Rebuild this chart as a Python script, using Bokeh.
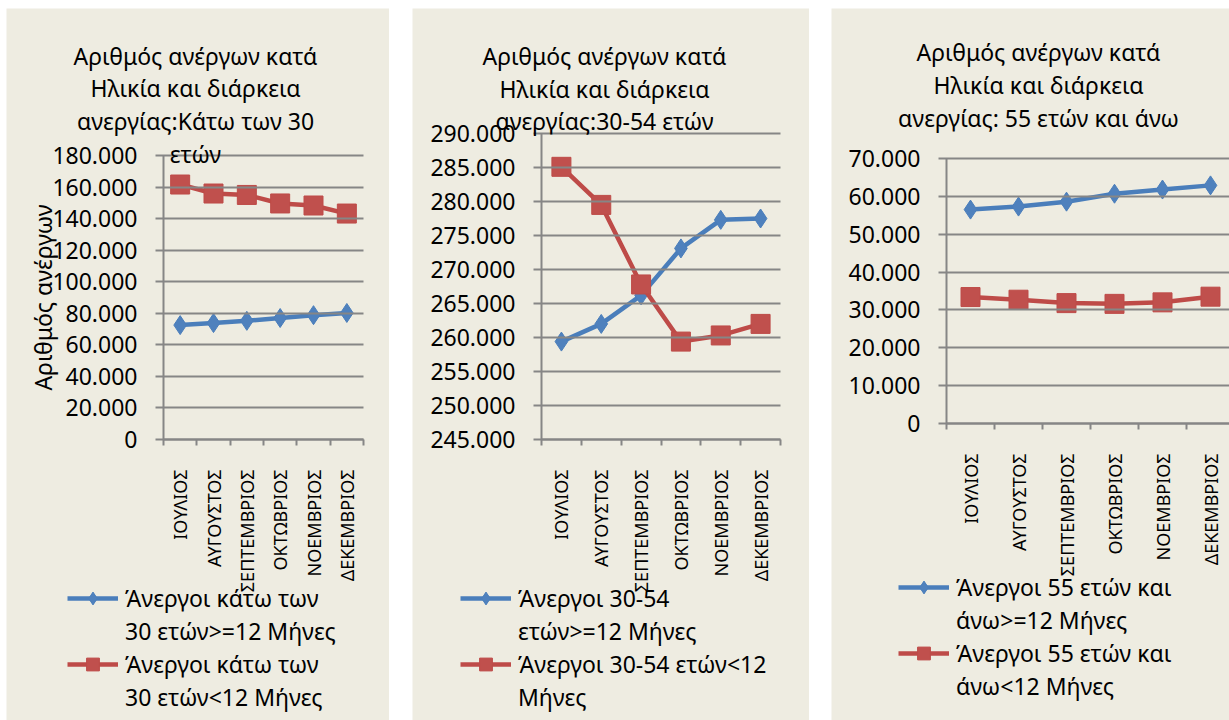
import math
from bokeh.plotting import figure
from bokeh.layouts import row, column
from bokeh.models import (Range1d, FixedTicker, Legend, LegendItem, Label, Spacer, LinearAxis)
from bokeh.embed import file_html
from bokeh.resources import INLINE

# ---------------- data ----------------
months = ["ΙΟΥΛΙΟΣ", "ΑΥΓΟΥΣΤΟΣ", "ΣΕΠΤΕΜΒΡΙΟΣ", "ΟΚΤΩΒΡΙΟΣ", "ΝΟΕΜΒΡΙΟΣ", "ΔΕΚΕΜΒΡΙΟΣ"]

under30_long = [72500, 73800, 75200, 77000, 78800, 80200]
under30_short = [161600, 155900, 155000, 149600, 148300, 143200]

age30_54_long = [259400, 262000, 266200, 273100, 277300, 277500]
age30_54_short = [285100, 279500, 267800, 259400, 260300, 262000]

over55_long = [56500, 57300, 58600, 60700, 61800, 62900]
over55_short = [33400, 32700, 31800, 31600, 32000, 33500]

ticks_p1 = [0, 20000, 40000, 60000, 80000, 100000, 120000, 140000, 160000, 180000]
tick_labels_p1 = ["0", "20.000", "40.000", "60.000", "80.000", "100.000", "120.000", "140.000", "160.000", "180.000"]
ticks_p2 = [245000, 250000, 255000, 260000, 265000, 270000, 275000, 280000, 285000, 290000]
tick_labels_p2 = ["245.000", "250.000", "255.000", "260.000", "265.000", "270.000", "275.000", "280.000", "285.000", "290.000"]
ticks_p3 = [0, 10000, 20000, 30000, 40000, 50000, 60000, 70000]
tick_labels_p3 = ["0", "10.000", "20.000", "30.000", "40.000", "50.000", "60.000", "70.000"]

titles_p1 = ["Αριθμός ανέργων κατά", "Ηλικία και διάρκεια", "ανεργίας:Κάτω των 30", "ετών"]
titles_p2 = ["Αριθμός ανέργων κατά", "Ηλικία και διάρκεια", "ανεργίας:30-54 ετών"]
titles_p3 = ["Αριθμός ανέργων κατά", "Ηλικία και διάρκεια", "ανεργίας: 55 ετών και άνω"]

legend_p1 = ["Άνεργοι κάτω των\n30 ετών>=12 Μήνες", "Άνεργοι κάτω των\n30 ετών<12 Μήνες"]
legend_p2 = ["Άνεργοι 30-54\nετών>=12 Μήνες", "Άνεργοι 30-54 ετών<12\nΜήνες"]
legend_p3 = ["Άνεργοι 55 ετών και\nάνω>=12 Μήνες", "Άνεργοι 55 ετών και\nάνω<12 Μήνες"]

y_axis_label_p1 = "Αριθμός ανέργων"

# ---------------- style ----------------
BG = "#EEECE1"
GRID = "#868686"
BLUE = "#4A7EBB"
BLUE_FILL = "#4F81BD"
RED = "#BE4B48"
RED_FILL = "#C0504D"
FONT = "Noto Sans"
H = 712
TXT = "23px"


def make_panel(W, L, R, T, B, yr, ticks, tick_labels, long_vals, short_vals,
               titles, title_cx, baselines, legend_labels, leg_x, leg_vy, ylabel=None):
    n = len(months)
    cw = (R - L) / n                      # px per category
    u = (yr[1] - yr[0]) / (B - T)         # data units per px
    p = figure(width=W, height=H, output_backend="svg", toolbar_location=None,
               x_range=Range1d(-L / cw, (W - L) / cw),
               y_range=Range1d(yr[0] - (H - B) * u, yr[1] + T * u),
               x_axis_location=None, y_axis_location=None,
               min_border=0, background_fill_color=BG, border_fill_color=BG,
               outline_line_color=None)
    p.title.visible = False
    for g in p.grid:
        g.visible = False

    xs = [i + 0.5 for i in range(n)]

    # category axis (ticks between categories, labels at centres)
    xa = LinearAxis(fixed_location=yr[0], bounds=(0, n))
    xa.ticker = FixedTicker(ticks=xs, minor_ticks=list(range(n + 1)))
    xa.major_label_overrides = {x: m for x, m in zip(xs, months)}
    xa.major_label_orientation = math.pi / 2
    xa.major_tick_line_color = None
    xa.major_tick_out = 0
    xa.major_tick_in = 0
    xa.minor_tick_line_color = GRID
    xa.minor_tick_line_width = 2
    xa.minor_tick_out = 6
    xa.minor_tick_in = 0
    xa.axis_line_color = GRID
    xa.axis_line_width = 2
    xa.major_label_standoff = 24
    xa.major_label_text_font = FONT
    xa.major_label_text_font_size = "18px"
    xa.major_label_text_color = "black"
    p.add_layout(xa, "below")

    # value axis; its long inward ticks act as the horizontal gridlines
    ya = LinearAxis(fixed_location=0, bounds=(yr[0], yr[1]))
    ya.ticker = FixedTicker(ticks=ticks, minor_ticks=[])
    ya.major_label_overrides = {t: s for t, s in zip(ticks, tick_labels)}
    ya.major_tick_line_color = GRID
    ya.major_tick_line_width = 2
    ya.major_tick_out = 8
    ya.major_tick_in = int(round(R - L))
    ya.minor_tick_line_color = None
    ya.axis_line_color = GRID
    ya.axis_line_width = 2
    ya.major_label_standoff = 18
    ya.major_label_text_font = FONT
    ya.major_label_text_font_size = TXT
    ya.major_label_text_color = "black"
    if ylabel:
        ya.axis_label = ylabel
        ya.axis_label_text_font = FONT
        ya.axis_label_text_font_size = TXT
        ya.axis_label_text_font_style = "normal"
        ya.axis_label_text_color = "black"
        ya.axis_label_standoff = -10
    p.add_layout(ya, "left")

    # series
    l1 = p.line(xs, long_vals, line_color=BLUE, line_width=4.5)
    s1 = p.scatter(xs, long_vals, marker="diamond", size=19,
                   fill_color=BLUE_FILL, line_color=BLUE, line_width=1)
    l2 = p.line(xs, short_vals, line_color=RED, line_width=4.5)
    s2 = p.scatter(xs, short_vals, marker="square", size=19,
                   fill_color=RED_FILL, line_color=RED, line_width=1)

    def dx(px):
        return (px - L) / cw

    def dy(py):
        return yr[0] + (B - py) * u

    for txt, by in zip(titles, baselines):
        p.add_layout(Label(x=dx(title_cx), y=dy(by), text=txt, text_align="center",
                           text_baseline="alphabetic", text_font=FONT,
                           text_font_size=TXT, text_color="black"))

    # legend: the sample sits beside the first line of each wrapped label
    items = []
    for lab, rends in zip(legend_labels, [[l1, s1], [l2, s2]]):
        first, *rest = lab.split("\n")
        items.append(LegendItem(label=first, renderers=rends))
        for extra in rest:
            items.append(LegendItem(label=extra, renderers=[]))
    legend = Legend(items=items, location=(leg_x, leg_vy), padding=0, margin=0, spacing=1,
                    border_line_color=None, background_fill_alpha=0,
                    label_text_font=FONT, label_text_font_size=TXT,
                    label_text_line_height=1.0, label_text_color="black",
                    glyph_width=51, glyph_height=32, label_height=32, label_standoff=7)
    p.add_layout(legend)
    return p


# geometry relative to each figure (figures start at x=6, 412, 831; y=8)
p1 = make_panel(383, 157, 357, 147, 431, (0, 180000), ticks_p1, tick_labels_p1,
                under30_long, under30_short, titles_p1, 189, [47, 79, 112, 145],
                legend_p1, 61, 7, ylabel=y_axis_label_p1)
p2 = make_panel(397, 129, 368, 125, 431, (245000, 290000), ticks_p2, tick_labels_p2,
                age30_54_long, age30_54_short, titles_p2, 192, [47, 80, 112],
                legend_p2, 48, 7)
p3 = make_panel(398, 115, 403, 150, 415, (0, 70000), ticks_p3, tick_labels_p3,
                over55_long, over55_short, titles_p3, 207, [43, 76, 109],
                legend_p3, 67, 18)

layout = column(
    Spacer(height=8),
    row(Spacer(width=6), column(p1), Spacer(width=23), column(p2), Spacer(width=22), column(p3),
        spacing=0),
    spacing=0,
)
open("out.html", "w").write(file_html(layout, INLINE))
